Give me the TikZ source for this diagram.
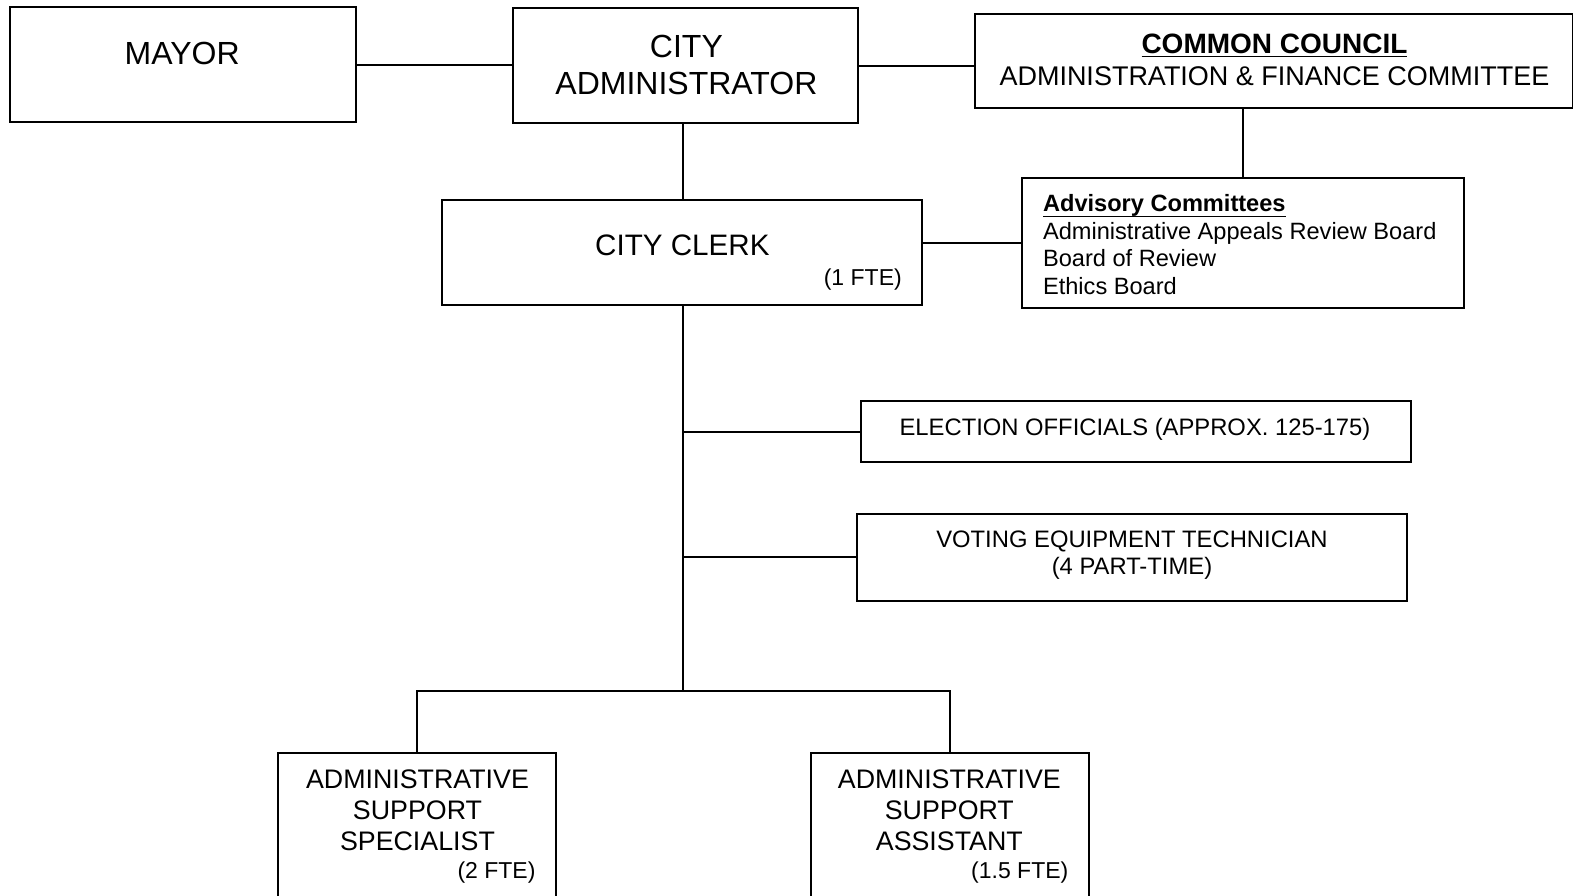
\documentclass[tikz,border=0pt]{standalone}
\usepackage{fontspec}
\setmainfont{Liberation Sans}
\newcommand\myunderline[2]{\setbox0=\hbox{#2}\rlap{\rule[-#1]{\wd0}{0.9pt}}\box0}
\tikzset{
  box/.style={draw, line width=1bp, inner sep=0pt, rectangle},
  conn/.style={line width=1bp},
  lbl/.style={inner sep=0pt, anchor=base},
  tbig/.style={lbl, font=\fontsize{16}{19}\selectfont},
  tclerkf/.style={lbl, font=\fontsize{14.8}{18}\selectfont},
  tcouncil/.style={lbl, font=\fontsize{14}{17}\selectfont\bfseries},
  tafcf/.style={lbl, font=\fontsize{13.5}{16}\selectfont},
  tadv/.style={lbl, anchor=base west, font=\fontsize{11.8}{14}\selectfont},
  tmid/.style={lbl, font=\fontsize{11.9}{14}\selectfont},
  tfte/.style={lbl, anchor=base east, font=\fontsize{11.5}{14}\selectfont},
  tlow/.style={lbl, font=\fontsize{13.4}{16}\selectfont},
}
\begin{document}
\begin{tikzpicture}[x=0.5bp, y=-0.5bp]
\useasboundingbox (0,0) rectangle (1567.5,891.9);
\clip (0,0) rectangle (1567.5,891.9);
% boxes
\node[box, minimum width=172.5bp, minimum height=57.5bp] (mayor) at (182.5,64.5) {};
\node[box, minimum width=172bp, minimum height=57.5bp] (admin) at (683,65.5) {};
\node[box, minimum width=297.5bp, minimum height=47bp] (council) at (1269.5,61) {};
\node[box, minimum width=239.5bp, minimum height=52.5bp] (clerk) at (679.5,251.5) {};
\node[box, minimum width=220.5bp, minimum height=65bp] (advisory) at (1238.5,242) {};
\node[box, minimum width=274bp, minimum height=30bp] (election) at (1132,430) {};
\node[box, minimum width=274bp, minimum height=43.5bp] (voting) at (1128,555.5) {};
\node[box, minimum width=138.5bp, minimum height=105bp] (ass) at (415.5,855) {};
\node[box, minimum width=138.5bp, minimum height=105bp] (asa) at (946.5,855) {};
\coordinate (spine) at (681,689);
% connectors
\draw[conn] (mayor.east) -- (mayor.east -| admin.west);
\draw[conn] (admin.east) -- (admin.east -| council.west);
\draw[conn] (spine |- admin.south) -- (spine |- clerk.north);
\draw[conn] (advisory.north) -- (advisory.north |- council.south);
\draw[conn] (advisory.west) -- (advisory.west -| clerk.east);
\draw[conn] (spine |- clerk.south) -- (spine);
\draw[conn] (election.west) -- (election.west -| spine);
\draw[conn] (voting.west) -- (voting.west -| spine);
\draw[conn] (ass.north) |- (asa.north |- spine) -- (asa.north);
% texts
\node[tbig] (tmayor) at (181.5,64.3) {MAYOR};
\node[tbig] (tcity) at (684,57.7) {CITY};
\node[tbig] (tadm) at (684,94) {ADMINISTRATOR};
\node[tclerkf] (tclerk) at (680,255) {CITY CLERK};
\node[tfte] (tfte1) at (899,284) {(1 FTE)};
\node[tcouncil] (tcc) at (1270,53.2) {\myunderline{2pt}{COMMON COUNCIL}};
\node[tafcf] (tafc) at (1270,85.4) {ADMINISTRATION \& FINANCE COMMITTEE};
\node[tadv] (ta1) at (1039,211) {\bfseries\myunderline{2.8pt}{Advisory Committees}};
\node[tadv] (ta2) at (1039,238.6) {Administrative Appeals Review Board};
\node[tadv] (ta3) at (1039,265.8) {Board of Review};
\node[tadv] (ta4) at (1039,293) {Ethics Board};
\node[tmid] (tel) at (1131,433.5) {ELECTION OFFICIALS (APPROX. 125-175)};
\node[tmid] (tv1) at (1128,545.5) {VOTING EQUIPMENT TECHNICIAN};
\node[tmid] (tv2) at (1128,572) {(4 PART-TIME)};
\node[tlow] (ts1) at (416,785.5) {ADMINISTRATIVE};
\node[tlow] (ts2) at (416,816.5) {SUPPORT};
\node[tlow] (ts3) at (416,847.5) {SPECIALIST};
\node[tfte] (ts4) at (534,875) {(2 FTE)};
\node[tlow] (tt1) at (946,785.5) {ADMINISTRATIVE};
\node[tlow] (tt2) at (946,816.5) {SUPPORT};
\node[tlow] (tt3) at (946,847.5) {ASSISTANT};
\node[tfte] (tt4) at (1065,875) {(1.5 FTE)};
\end{tikzpicture}
\end{document}
